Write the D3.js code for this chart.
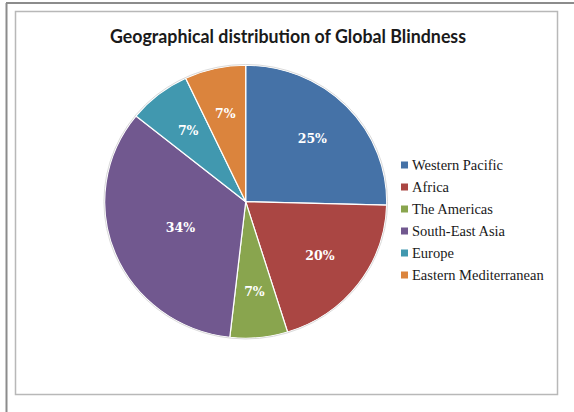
<!DOCTYPE html>
<html>
<head>
<meta charset="utf-8">
<script src="https://cdn.jsdelivr.net/npm/d3@7"></script>
<style>
  body { margin: 0; background: #fff; }
  svg { display: block; }
</style>
</head>
<body>
<div id="chart"></div>
<script>
var regions = ["Western Pacific", "Africa", "The Americas", "South-East Asia", "Europe", "Eastern Mediterranean"];
var shares = [25.4, 19.8, 6.6, 34.0, 7.2, 7.0];
var colors = ["#4572a7", "#aa4643", "#89a54e", "#71588f", "#4198af", "#db843d"];
var title = "Geographical distribution of Global Blindness";

var width = 574, height = 412;

var svg = d3.select("#chart").append("svg")
    .attr("width", width)
    .attr("height", height);

// outer page frame (top and left edges only)
svg.append("line")
    .attr("x1", 6).attr("y1", 3).attr("x2", width).attr("y2", 3)
    .attr("stroke", "#8c8c8c").attr("stroke-width", 2);
svg.append("line")
    .attr("x1", 6.5).attr("y1", 3).attr("x2", 6.5).attr("y2", height)
    .attr("stroke", "#8c8c8c").attr("stroke-width", 2);

// chart area box
svg.append("rect")
    .attr("x", 15.5).attr("y", 11.5)
    .attr("width", 542).attr("height", 383)
    .attr("fill", "#fff")
    .attr("stroke", "#b8b8b8").attr("stroke-width", 1.5);

svg.append("text")
    .attr("x", 288).attr("y", 43)
    .attr("text-anchor", "middle")
    .attr("font-family", "Lato, 'Open Sans', sans-serif")
    .attr("font-weight", "bold")
    .attr("font-size", 18)
    .attr("fill", "#1a1a1a")
    .attr("textLength", 356)
    .attr("lengthAdjust", "spacingAndGlyphs")
    .text(title);

var radius = 141;

var pie = d3.pie().sort(null).value(function(d) { return d; });
var arcs = pie(shares);

var arc = d3.arc().innerRadius(0).outerRadius(radius);

var g = svg.append("g")
    .attr("transform", "translate(245.7,201.7) scale(1,0.968)");

g.selectAll("path.slice")
    .data(arcs)
    .enter().append("path")
      .attr("class", "slice")
      .attr("d", arc)
      .attr("fill", function(d, i) { return colors[i]; })
      .attr("stroke", "#fff")
      .attr("stroke-width", 1.2);

// faint rim
g.append("circle")
    .attr("r", radius + 0.8)
    .attr("fill", "none")
    .attr("stroke", "#d9d9d9")
    .attr("stroke-width", 1);

var labelArc = function(d) {
  var r = (d.endAngle - d.startAngle) > 2 ? radius * 0.5 : radius * 0.66;
  return d3.arc().innerRadius(r).outerRadius(r).centroid(d);
};

svg.append("g")
    .attr("transform", "translate(245.7,201.7)")
  .selectAll("text")
    .data(arcs)
    .enter().append("text")
      .attr("x", function(d) { return labelArc(d)[0]; })
      .attr("y", function(d) { return labelArc(d)[1] * 0.968; })
      .attr("dy", "0.35em")
      .attr("text-anchor", "middle")
      .attr("font-family", "'DejaVu Serif', serif")
      .attr("font-weight", "bold")
      .attr("font-size", 12.5)
      .attr("fill", "#fff")
      .text(function(d) { return Math.round(d.data) + "%"; });

var legend = svg.append("g")
    .attr("transform", "translate(401,165)");

var item = legend.selectAll("g")
    .data(regions)
    .enter().append("g")
      .attr("transform", function(d, i) { return "translate(0," + (i * 22) + ")"; });

item.append("rect")
    .attr("x", 0).attr("y", -3.5)
    .attr("width", 7).attr("height", 7)
    .attr("fill", function(d, i) { return colors[i]; });

item.append("text")
    .attr("x", 11)
    .attr("dy", "0.35em")
    .attr("font-family", "'Liberation Serif', 'Times New Roman', serif")
    .attr("font-size", 14.5)
    .attr("fill", "#1a1a1a")
    .text(function(d) { return d; });
</script>
</body>
</html>
